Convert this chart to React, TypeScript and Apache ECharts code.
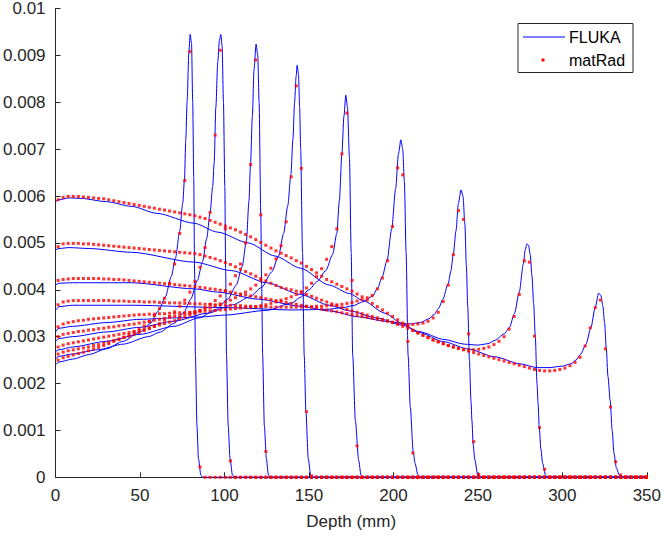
import React, { useEffect, useRef } from "react";
import * as echarts from "echarts";

// values are stored in units of 1e-5 (dose)
const UNIT = 1e-5;

const xTicks = [0, 50, 100, 150, 200, 250, 300, 350];
const yTickLabels = ["0", "0.001", "0.002", "0.003", "0.004", "0.005", "0.006", "0.007", "0.008", "0.009", "0.01"];

// FLUKA curves: [depth (mm), dose (1e-5)]
const flukaA = [[0,240],[2,246],[10,252],[20,262],[30,274],[40,290],[50,310],[56,328],[61,355],[65,385],[68.5,428],[71,468],[73.5,525],[75.3,585],[76.3,635],[77.1,720],[77.9,803],[78.9,905],[79.7,945],[80.5,925],[81.2,800],[81.8,640],[82.3,440],[82.8,260],[83.7,110],[84.6,40],[86,5],[87,0],[350,0]];
const flukaB = [[0,253],[2,258],[10,263],[25,272],[40,284],[55,300],[62,310],[70,328],[76,352],[80,380],[84,420],[87,460],[89.5,510],[91.5,565],[93,620],[93.9,670],[94.9,790],[96,885],[97,932],[97.8,945],[98.6,920],[99.4,800],[100.2,620],[100.7,440],[101.2,260],[102.2,110],[103.3,40],[104.7,5],[106,0],[350,0]];
const flukaC = [[0,268],[2,272],[10,278],[30,290],[50,305],[70,322],[85,340],[95,358],[102,380],[107,410],[110.5,450],[113,505],[114.5,590],[115.4,667],[116.5,770],[117.5,870],[118.7,924],[119.7,900],[120.5,800],[121.5,560],[122,410],[122.6,260],[123.6,110],[124.8,40],[126,5],[127,0],[350,0]];
const flukaD = [[0,290],[2,296],[10,300],[30,310],[50,320],[70,333],[90,350],[105,368],[115,385],[122,405],[128,438],[132,472],[135,520],[137.5,580],[139.3,645],[140.5,720],[141.5,800],[142.4,855],[143,879],[143.8,860],[144.5,790],[145.1,700],[146.2,480],[147.2,260],[148.2,140],[149.6,40],[151,5],[152,0],[350,0]];
const flukaE = [[0,310],[2,318],[10,322],[30,330],[50,337],[70,340],[86,342],[100,346],[125,356],[140,372],[145,384],[150,400],[155,418],[160,441],[164,475],[166.5,520],[168,590],[169.5,690],[170.7,770],[171.8,815],[172.8,790],[174,680],[175,480],[175.9,260],[177.5,120],[179.4,37],[180.8,5],[182,0],[350,0]];
const flukaF = [[0,356],[2,364],[10,367],[45,367],[100,362],[140,357],[160,358],[170,362],[176,366],[181.8,374],[187.6,386],[190.6,403],[193.3,427],[196.2,462],[199,530],[201.3,615],[203,690],[204.4,720],[205.5,700],[206.5,630],[207.5,480],[208.7,260],[210,150],[211.7,55],[212.8,30],[214.5,5],[216,0],[350,0]];
const flukaG = [[0,410],[2,414],[10,415],[45,415],[82,402],[96,395],[120,380],[145,365],[162,355],[180,342],[195,333],[209,327],[216,330],[221,338],[224,347],[226.7,360],[229.2,379],[232.4,413],[234,440],[235.5,477],[237,525],[238.5,585],[240,613],[241.2,600],[242.3,540],[243.2,450],[244,363],[245,250],[245.9,164],[246.5,120],[247.2,70],[248.2,37],[250,3],[251,0],[350,0]];
const flukaH = [[0,485],[2,488],[8,490],[20,488],[45,480],[82,459],[104,441],[125,415],[145,390],[162,367],[174,355],[190,340],[205,325],[215,311],[230,294],[242,284],[250,282],[256,285],[260,292],[265.6,306],[268.7,320],[271.6,349],[274.5,395],[276.9,455],[278,485],[279,498],[280,495],[281,475],[282,430],[283,370],[284,300],[285,200],[285.6,160],[286.3,108],[287.3,60],[288.3,30],[290,5],[291,0],[350,0]];
const flukaI = [[0,588],[2,592],[8,596],[15,595],[30,588],[45,578],[60,563],[82,542],[96,523],[114,500],[130,472],[145,446],[162,410],[174,392],[182,377],[195,350],[205,328],[215,309],[230,289],[244,274],[260,257],[275,242],[285,234],[292,234],[300,237],[305,242],[308,250],[310.7,262],[314,284],[316.9,319],[319.4,362],[321.5,393],[322.8,388],[324,365],[325,330],[326,275],[327,215],[328.3,164],[329.5,100],[330.6,50],[332,20],[333.7,5],[335,0],[350,0]];

// matRad voxel grid: 3 mm voxels, first centre at 1.5 mm, up to 349.5 mm
const MATRAD_FIRST = 1.5;
const MATRAD_STEP = 3;
const MATRAD_COUNT = 117;

// matRad doses (1e-5) per voxel; voxels beyond the listed ones are 0
const matRadA = [250,255,258,261,264,267,270,274,277,281, 285,290,294,299,304,310,316,323,332,345, 360,382,414,455,520,633,908,350,22];
const matRadB = [263,267,270,272,274,276,278,281,283,286, 289,292,295,298,301,305,309,313,317,322, 328,335,343,353,365,378,395,418,448,490, 565,730,911,530,35];
const matRadC = [278,282,285,287,289,291,293,295,297,299, 301,303,305,307,309,311,313,316,319,322, 325,328,331,334,338,342,346,351,356,362, 369,377,387,398,412,430,455,500,667,890, 560,55];
const matRadD = [300,305,307,309,311,312,314,315,317,318, 320,321,323,324,326,327,329,331,333,335, 337,339,341,343,345,348,350,353,356,359, 362,366,370,374,378,383,389,395,402,410, 420,432,446,466,494,545,641,835,659,140, 3];
const matRadE = [321,327,330,332,334,335,337,338,339,340, 341,342,343,344,345,346,347,347,348,348, 349,349,350,350,351,351,352,352,353,354, 355,356,357,358,359,360,361,362,363,364, 366,368,371,374,378,381,385,390,396,404, 414,428,445,465,492,530,690,777,420,67, 0];
const matRadF = [368,374,376,377,377,377,377,377,377,377, 377,376,376,376,375,375,375,374,374,374, 373,373,372,372,372,371,371,370,370,369, 369,368,368,367,367,366,366,365,365,364, 364,364,363,363,363,363,363,363,363,364, 364,365,365,366,367,368,369,371,373,376, 379,383,388,402,425,462,535,660,645,290, 52];
const matRadG = [420,422,423,424,424,424,424,424,424,423, 423,422,422,421,420,419,418,417,416,415, 414,413,412,411,410,409,408,407,405,404, 402,401,399,397,395,393,391,389,387,385, 383,381,379,377,375,373,371,369,367,365, 363,361,359,357,355,353,351,349,347,345, 343,341,339,337,335,333,331,329,327,326, 326,327,329,333,340,352,375,410,475,569, 550,306,76,6];
const matRadH = [492,498,499,499,499,498,498,497,496,495, 494,493,492,491,490,489,488,487,486,485, 484,483,482,481,480,479,478,477,475,472, 469,466,462,458,454,449,444,439,434,429, 424,419,414,409,405,402,400,397,394,390, 386,382,378,374,370,366,362,358,355,352, 349,346,343,340,337,334,330,326,322,318, 313,308,303,298,293,289,285,281,278,275, 273,272,272,273,275,278,283,290,300,316, 343,390,462,459,301,106,17];
const matRadI = [592,597,599,599,599,598,597,596,595,594, 592,590,588,586,584,582,580,578,576,574, 572,570,568,566,564,562,560,558,555,552, 548,544,540,536,532,528,523,518,513,507, 501,495,489,483,478,473,468,462,457,450, 443,436,429,422,417,412,407,402,397,391, 385,378,371,364,357,350,343,336,329,322, 314,308,303,298,293,289,285,281,278,275, 272,269,266,263,260,257,254,251,248,245, 242,239,236,233,230,228,227,227,228,230, 233,238,245,256,280,319,362,378,274,150, 33,5];

const flukaCurves = [flukaA, flukaB, flukaC, flukaD, flukaE, flukaF, flukaG, flukaH, flukaI];
const matRadCurves = [matRadA, matRadB, matRadC, matRadD, matRadE, matRadF, matRadG, matRadH, matRadI];

const FONT = "'Liberation Sans', Arial, Helvetica, sans-serif";
const AXIS_COLOR = "#262626";

export default function App() {
  const ref = useRef<HTMLDivElement>(null);

  useEffect(() => {
    if (!ref.current) return;
    const chart = echarts.init(ref.current, null, { renderer: "svg" });

    const matRadDepths = Array.from({ length: MATRAD_COUNT }, (_, i) => MATRAD_FIRST + MATRAD_STEP * i);

    const lineSeries = flukaCurves.map((c, k) => ({
      type: "line",
      name: "FLUKA",
      id: "fluka" + k,
      data: c.map(([d, v]) => [d, v * UNIT]),
      symbol: "none",
      showSymbol: false,
      smooth: 0.25,
      smoothMonotone: "x",
      lineStyle: { color: "#0000ff", width: 1 },
      itemStyle: { color: "#0000ff" },
      silent: true,
      z: 2,
    }));

    const dotSeries = matRadCurves.map((vals, k) => ({
      type: "scatter",
      name: "matRad",
      id: "matrad" + k,
      data: matRadDepths.map((d, i) => [d, (i < vals.length ? vals[i] : 0) * UNIT]),
      symbol: "rect",
      symbolSize: 3,
      itemStyle: { color: "#ff0000" },
      silent: true,
      z: 3,
    }));

    chart.setOption({
      animation: false,
      backgroundColor: "#ffffff",
      grid: { left: 53, right: 13.3, top: 7.3, bottom: 61.7, containLabel: false },
      xAxis: {
        type: "value",
        min: 0,
        max: 350,
        interval: 50,
        name: "Depth (mm)",
        nameLocation: "middle",
        nameGap: 36,
        nameTextStyle: { color: AXIS_COLOR, fontSize: 17, fontFamily: FONT },
        axisLine: { show: true, lineStyle: { color: AXIS_COLOR, width: 1 } },
        axisTick: { show: true, inside: true, length: 5, lineStyle: { color: AXIS_COLOR } },
        axisLabel: {
          color: AXIS_COLOR,
          fontSize: 17,
          fontFamily: FONT,
          margin: 10,
          formatter: (v: number) => String(xTicks.find((t) => Math.abs(t - v) < 1e-6) ?? v),
        },
        splitLine: { show: false },
      },
      yAxis: {
        type: "value",
        min: 0,
        max: 0.01,
        interval: 0.001,
        axisLine: { show: true, lineStyle: { color: AXIS_COLOR, width: 1 } },
        axisTick: { show: true, inside: true, length: 5, lineStyle: { color: AXIS_COLOR } },
        axisLabel: {
          color: AXIS_COLOR,
          fontSize: 17,
          fontFamily: FONT,
          margin: 10,
          padding: [6, 0, 0, 0],
          formatter: (v: number) => yTickLabels[Math.round(v / 0.001)] ?? String(v),
        },
        splitLine: { show: false },
      },
      series: [...lineSeries, ...dotSeries],
      graphic: [
        {
          type: "rect",
          shape: { x: 518, y: 23.5, width: 115, height: 49 },
          style: { fill: "#ffffff", stroke: AXIS_COLOR, lineWidth: 1 },
          z: 100,
        },
        {
          type: "line",
          shape: { x1: 523, y1: 37, x2: 565, y2: 37 },
          style: { stroke: "#0000ff", lineWidth: 1 },
          z: 101,
        },
        {
          type: "text",
          x: 569,
          y: 37,
          style: { text: "FLUKA", fill: "#000000", fontSize: 16, fontFamily: FONT, verticalAlign: "middle" },
          z: 101,
        },
        {
          type: "rect",
          shape: { x: 541.5, y: 58.5, width: 3, height: 3 },
          style: { fill: "#ff0000" },
          z: 101,
        },
        {
          type: "text",
          x: 569,
          y: 60,
          style: { text: "matRad", fill: "#000000", fontSize: 16, fontFamily: FONT, verticalAlign: "middle" },
          z: 101,
        },
      ],
    });

    return () => chart.dispose();
  }, []);

  return (
    <div
      ref={ref}
      style={{ position: "fixed", left: 0, top: 0, width: 664, height: 539, background: "#ffffff" }}
    />
  );
}
